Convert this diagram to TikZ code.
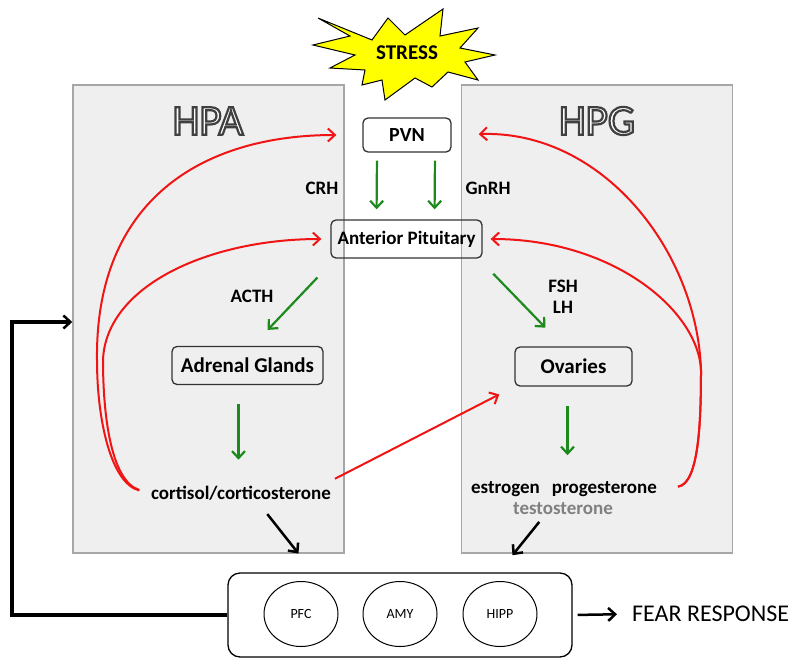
\documentclass[tikz,border=0pt]{standalone}
\usepackage{fontspec}
\setmainfont{Carlito}
\usetikzlibrary{arrows.meta,shapes.geometric}

\definecolor{panelgray}{HTML}{EFEFEF}
\definecolor{panelline}{HTML}{A6A6A6}
\definecolor{hormgreen}{HTML}{1E8A1E}
\definecolor{fbred}{HTML}{F01414}
\definecolor{starfill}{HTML}{FFFF00}
\definecolor{testogray}{HTML}{808080}

\newcommand{\fsz}[1]{\fontsize{#1}{#1}\selectfont}
% white letters with a dark outline (text render mode 2)
\newcommand{\hollow}[1]{\special{pdf:code 2 Tr 2.2 w 0.25 G 1 g}#1\special{pdf:code 0 Tr 0 g 0 G}}

\tikzset{
  panel/.style={draw=panelline, line width=1.5pt, fill=panelgray,
    minimum width=271pt, minimum height=468pt},
  organ/.style={draw=black!80, rounded corners=5pt, line width=1.3pt,
    font=\bfseries\fsz{21}},
  label/.style={font=\bfseries\fsz{19}, inner sep=2pt},
  hormone/.style={draw=hormgreen, line width=2.2pt,
    -{Straight Barb[length=7pt,width=13pt,line width=2.2pt]}},
  feedback/.style={draw=fbred, line width=2pt,
    -{Straight Barb[length=7pt,width=13pt,line width=2pt]}},
  signal/.style={draw=black, line width=2.5pt,
    -{Straight Barb[length=7pt,width=13pt,line width=2.5pt]}},
  region/.style={ellipse, draw, line width=1pt, minimum width=74pt,
    minimum height=65pt, inner sep=0pt, font=\fsz{14}}
}

\begin{document}
\begin{tikzpicture}[x=1pt,y=-1pt]
  \useasboundingbox (0,0) rectangle (800,667);

  % HPA and HPG panels
  \node[panel] (hpa) at (208.5,319) {};
  \node[panel] (hpg) at (597,319) {};
  \node (hpatitle) at (208,121) {\fsz{43}\hollow{HPA}};
  \node (hpgtitle) at (597,121) {\fsz{43}\hollow{HPG}};

  % stress burst
  \filldraw[fill=starfill, draw=black, line width=1pt]
    (318,18) -- (372,40) -- (388,18) -- (405,35) -- (443,9) -- (440,36)
    -- (478,28) -- (460,48) -- (495,55) -- (465,62) -- (478,80) -- (448,72)
    -- (432,87) -- (415,78) -- (385,100) -- (382,80) -- (362,85) -- (365,70)
    -- (330,68) -- (355,55) -- (313,45) -- (350,36) -- cycle;
  \node[font=\bfseries\fsz{21}] (stress) at (407,53) {STRESS};

  % glands
  \node[organ, font=\bfseries\fsz{20}, minimum width=88pt, minimum height=34pt] (pvn) at (407,135) {PVN};
  \node[organ, font=\bfseries\fsz{19}, minimum width=151pt, minimum height=38pt] (ap) at (406.5,239) {Anterior Pituitary};
  \node[organ, minimum width=151pt, minimum height=38pt] (adr) at (247.5,365.5) {Adrenal Glands};
  \node[organ, minimum width=117pt, minimum height=39pt] (ovar) at (573.5,366.5) {Ovaries};

  % hormone labels
  \node[label] (crh) at (322,188) {CRH};
  \node[label] (gnrh) at (488,188) {GnRH};
  \node[label] (acth) at (252,296) {ACTH};
  \node[label, align=center] (fshlh) at (563,297) {FSH\\[2pt]LH};
  \node[label] (cort) at (241,493) {cortisol/corticosterone};
  \node[label] (estro) at (564,489) {estrogen\hspace{0.4em} progesterone};
  \node[label, text=testogray] (testo) at (563,509) {testosterone};

  % brain regions
  \node[draw, rounded corners=12pt, line width=1.3pt, minimum width=344pt, minimum height=84pt] (brain) at (400,615) {};
  \node[region] (pfc) at (301,614) {PFC};
  \node[region] (amy) at (400,614) {AMY};
  \node[region] (hipp) at (500,614) {HIPP};
  \node[anchor=west, inner sep=0pt, font=\fsz{24}] (fear) at (632,614) {FEAR RESPONSE};

  % green hormone arrows
  \draw[hormone, shorten <=8pt, shorten >=10pt] ([xshift=-30pt]pvn.south) -- ([xshift=-30pt]ap.north);
  \draw[hormone, shorten <=8pt, shorten >=10pt] ([xshift=28pt]pvn.south) -- ([xshift=28pt]ap.north);
  \draw[hormone, shorten <=26pt, shorten >=22pt] ([xshift=5pt]ap.south west) -- ([xshift=5pt]adr.north);
  \draw[hormone, shorten <=21pt, shorten >=26pt] ([xshift=-4pt]ap.south east) -- ([xshift=-10pt]ovar.north);
  \draw[hormone, shorten <=19pt, shorten >=24pt] ([xshift=-9pt]adr.south) -- ([xshift=-9pt]adr.south |- cort.north);
  \draw[hormone, shorten <=19pt, shorten >=24pt] ([xshift=-6pt]ovar.south) -- ([xshift=-6pt]ovar.south |- estro.north);

  % red feedback loops
  \coordinate (lbend) at (97,360);
  \coordinate (lbend2) at (103,360);
  \coordinate (rbend) at (701,370);
  \draw[feedback, shorten <=10pt, shorten >=26pt] (cort.west) .. controls +(-38,-10) and +(0,60) .. (lbend)
    .. controls +(-2,-160) and +(-160,0) .. (pvn.west);
  \draw[feedback, shorten <=10pt, shorten >=9pt] (cort.west) .. controls +(-38,-12) and +(0,55) .. (lbend2)
    .. controls +(3,-75) and +(-120,0) .. (ap.west);
  \draw[feedback, shorten <=19pt, shorten >=27pt] (estro.east) .. controls +(40,-5) and +(0,50) .. (rbend)
    .. controls +(-4,-120) and +(150,-5) .. (pvn.east);
  \draw[feedback, shorten <=19pt, shorten >=8pt] (estro.east) .. controls +(40,-5) and +(0,50) .. (rbend)
    .. controls +(-3,-60) and +(130,0) .. (ap.east);
  \draw[feedback, shorten <=2pt, shorten >=17pt] ([yshift=4pt]cort.north east) -- (ovar.south west);

  % outputs to the brain
  \draw[signal, shorten <=15pt, shorten >=24pt] ([xshift=17pt]cort.south) -- ([xshift=86pt]brain.north west);
  \draw[signal, shorten <=6pt, shorten >=22pt] ([xshift=-20pt]testo.south) -- ([xshift=-74pt]brain.north east);
  \draw[signal, shorten <=5pt, shorten >=15pt] (brain.east) -- (fear.west);

  % loop back to HPA
  \coordinate (loopcorner) at (12,615);
  \draw[signal, line width=3.5pt] (brain.west) -- (loopcorner) |- ([yshift=-3pt]hpa.west);
\end{tikzpicture}
\end{document}
